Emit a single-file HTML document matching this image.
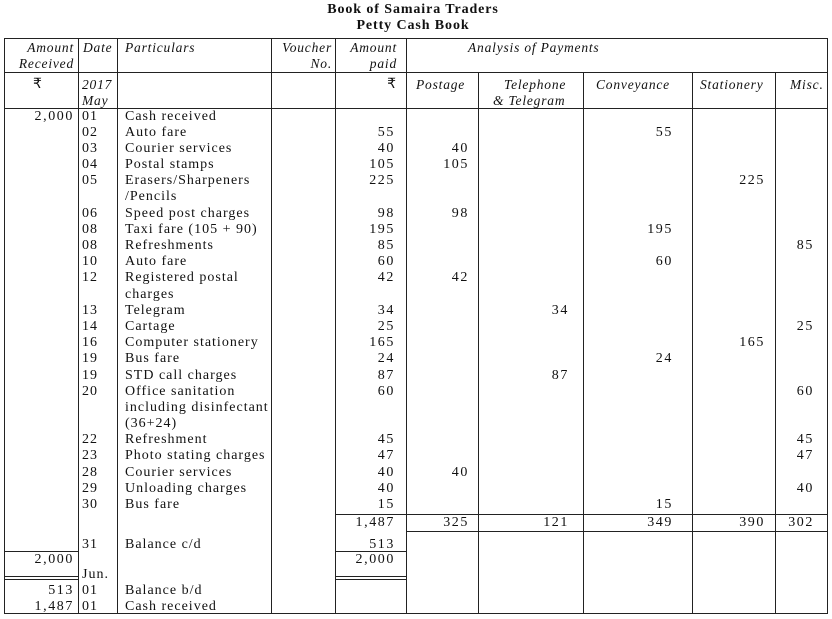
<!DOCTYPE html>
<html><head><meta charset="utf-8"><style>
body{margin:0;width:832px;height:619px;background:#fff;position:relative;overflow:hidden;font-family:"Liberation Serif",serif;color:#111}
.l{position:absolute;background:#222}
.t{position:absolute;font-size:14px;line-height:16px;white-space:nowrap;letter-spacing:1px}
.i{font-style:italic;font-size:13.5px;letter-spacing:0.8px}
.b{font-weight:bold;font-size:14px;letter-spacing:0.9px}
.n{letter-spacing:1.6px}
</style></head><body>
<div id="c"></div>
<script>
var c=document.getElementById('c'),h='';
function L(x,y,w,hh){h+='<div class="l" style="left:'+x+'px;top:'+y+'px;width:'+w+'px;height:'+hh+'px"></div>';}
function T(s,x,y,cls,r){ if(r) h+='<div class="t '+(cls||'')+'" style="right:'+(832-x-1)+'px;top:'+(y-7)+'px">'+s+'</div>';
 else h+='<div class="t '+(cls||'')+'" style="left:'+x+'px;top:'+(y-7)+'px">'+s+'</div>';}
function C(s,x,y,cls){h+='<div class="t '+(cls||'')+'" style="left:'+(x-150)+'px;width:300px;text-align:center;top:'+(y-7)+'px">'+s+'</div>';}
var xs=[4,78,117,271,335,406,478,583,692,775,827];
L(4,38,824,1.3);L(4,613,824,1.3);
L(4,72,824,1);L(4,108,824,1);
xs.forEach(function(x,k){ if(k>=6&&k<=9) L(x,72,1,541); else L(x,38,1.2,576);});
L(335,514,492,1);L(406,531,421,1);
L(4,551,74,1);L(335,551,71,1);
L(4,576,74,1);L(4,579,74,1);L(335,576,71,1);L(335,579,71,1);
C('Book of Samaira Traders',413,9,'b');C('Petty Cash Book',413,25,'b');
T('Amount',73,47,'i',1);T('Received',73,63,'i',1);
T('Date',83,47,'i');T('Particulars',125,47,'i');
T('Voucher',331,47,'i',1);T('No.',331,63,'i',1);
T('Amount',396,47,'i',1);T('paid',396,63,'i',1);
T('Analysis of Payments',468,47,'i');
T('&#8377;',33,84);T('2017',82,84,'i');T('May',82,100,'i');T('&#8377;',396,84,null,1);
T('Postage',416,84,'i');T('Telephone',504,84,'i');T('&amp; Telegram',493,100,'i');
T('Conveyance',596,84,'i');T('Stationery',700,84,'i');T('Misc.',790,84,'i');
var R=[[116,'2,000','01','Cash received'],[132,'','02','Auto fare','55','','','55'],
[148,'','03','Courier services','40','40'],[164,'','04','Postal stamps','105','105'],
[180,'','05','Erasers/Sharpeners','225','','','','225'],[196,'','','/Pencils'],
[213,'','06','Speed post charges','98','98'],[229,'','08','Taxi fare (105 + 90)','195','','','195'],
[245,'','08','Refreshments','85','','','','','85'],[261,'','10','Auto fare','60','','','60'],
[277,'','12','Registered postal','42','42'],[294,'','','charges'],
[310,'','13','Telegram','34','','34'],[326,'','14','Cartage','25','','','','','25'],
[342,'','16','Computer stationery','165','','','','165'],[358,'','19','Bus fare','24','','','24'],
[375,'','19','STD call charges','87','','87'],[391,'','20','Office sanitation','60','','','','','60'],
[407,'','','including disinfectant'],[423,'','','(36+24)'],
[439,'','22','Refreshment','45','','','','','45'],[455,'','23','Photo stating charges','47','','','','','47'],
[472,'','28','Courier services','40','40'],[488,'','29','Unloading charges','40','','','','','40'],
[504,'','30','Bus fare','15','','','15'],
[522,'','','','1,487','325','121','349','390','302'],
[544,'','31','Balance c/d','513'],[559,'2,000','','','2,000'],
[574,'','Jun.',''],[590,'513','01','Balance b/d'],[606,'1,487','01','Cash received']];
var rx=[394,468,568,672,764,813];
R.forEach(function(r){var y=r[0];
 if(r[1])T(r[1],73,y,'n',1); if(r[2])T(r[2],82,y); if(r[3])T(r[3],125,y);
 for(var k=4;k<r.length;k++) if(r[k]) T(r[k],rx[k-4],y,'n',1);});
c.innerHTML=h;
</script>
</body></html>
